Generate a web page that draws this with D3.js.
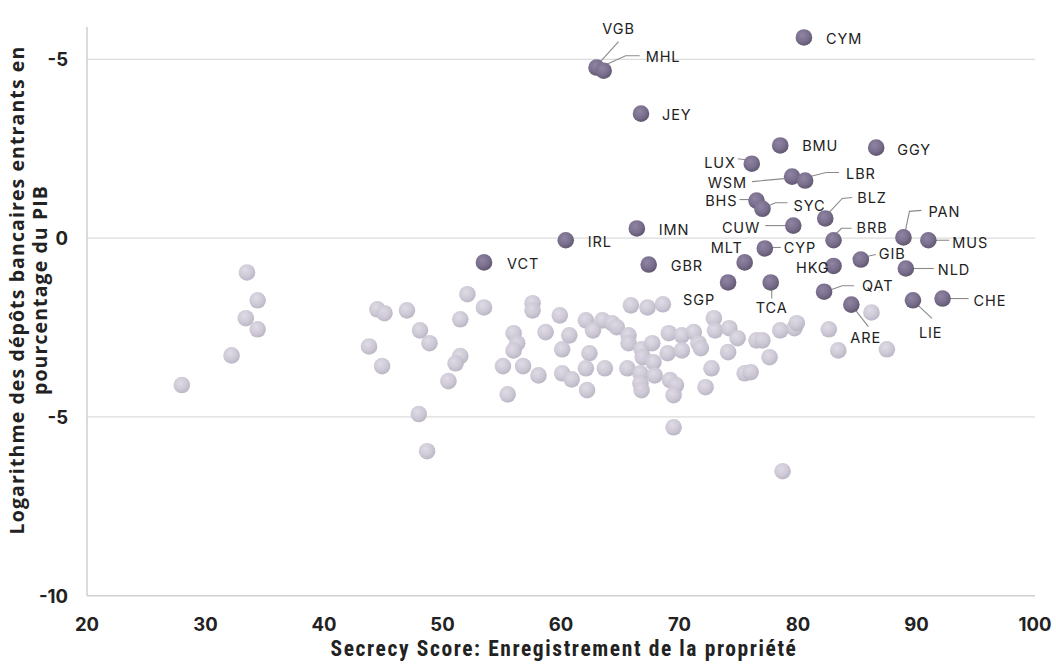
<!DOCTYPE html>
<html><head><meta charset="utf-8">
<script src="https://cdn.jsdelivr.net/npm/d3@7"></script>
<style>body{margin:0;background:#fff}</style>
</head><body><svg id="c" width="1056" height="664"></svg>
<script>
// ---- data ----
const codes = ["VGB","MHL","CYM","JEY","BMU","GGY","LUX","WSM","LBR","BHS","SYC","BLZ","CUW","IMN","PAN","BRB","IRL","MUS","CYP","GIB","VCT","MLT","GBR","HKG","NLD","TCA","SGP","QAT","ARE","LIE","CHE"];
const codeScore = [63.0,63.6,80.5,66.75,78.5,86.6,76.1,79.5,80.6,76.5,77.0,82.3,79.6,66.4,88.9,83.0,60.4,91.0,77.2,85.3,53.5,75.5,67.4,83.0,89.1,77.7,74.1,82.2,84.5,89.7,92.2];
const codeDeposit = [4.77,4.68,5.61,3.48,2.59,2.53,2.08,1.72,1.61,1.05,0.82,0.55,0.35,0.27,0.02,-0.06,-0.06,-0.06,-0.29,-0.60,-0.68,-0.68,-0.74,-0.78,-0.85,-1.24,-1.24,-1.50,-1.86,-1.74,-1.69];
const otherScore = [28.0,32.2,33.5,34.4,33.4,34.4,43.8,44.5,45.1,47.0,44.9,48.1,48.9,48.0,48.7,51.5,52.1,53.5,51.5,51.1,50.5,57.6,57.6,56.0,56.3,56.0,55.1,56.8,58.1,55.5,58.7,59.9,60.7,60.1,60.1,60.9,62.1,63.5,64.3,64.7,62.7,62.4,62.1,63.7,62.2,65.9,67.3,68.6,65.7,65.7,65.6,66.8,67.7,66.9,67.8,66.7,67.9,66.7,66.8,69.1,70.2,71.2,71.6,69.0,70.2,69.2,69.7,69.5,69.5,72.7,72.2,72.9,73.0,71.8,74.2,74.9,74.1,76.5,77.0,77.6,75.5,76.0,78.5,79.7,79.9,82.6,83.4,86.2,87.5,78.7];
const otherDeposit = [-4.11,-3.28,-0.96,-1.74,-2.24,-2.55,-3.03,-1.99,-2.10,-2.02,-3.58,-2.58,-2.94,-4.92,-5.96,-2.27,-1.57,-1.94,-3.30,-3.50,-4.00,-1.82,-2.02,-2.66,-2.94,-3.14,-3.58,-3.58,-3.84,-4.37,-2.63,-2.16,-2.72,-3.11,-3.78,-3.95,-2.30,-2.30,-2.38,-2.49,-2.58,-3.22,-3.64,-3.64,-4.25,-1.88,-1.94,-1.85,-2.72,-2.94,-3.64,-3.11,-2.94,-3.33,-3.47,-3.78,-3.84,-4.06,-4.25,-2.66,-2.72,-2.63,-2.94,-3.22,-3.14,-3.97,-4.11,-4.39,-5.29,-3.64,-4.17,-2.24,-2.58,-3.08,-2.52,-2.80,-3.19,-2.86,-2.86,-3.33,-3.78,-3.75,-2.58,-2.52,-2.38,-2.55,-3.14,-2.08,-3.11,-6.52];
const xTicks = [20,30,40,50,60,70,80,90,100];
const yTicks = [5,0,-5,-10];
const yTickLabels = ["-5","0","-5","-10"];
const xTitle = "Secrecy Score: Enregistrement de la propriété";
const yTitleLines = ["Logarithme des dépôts bancaires entrants en","pourcentage du PIB"];

// ---- label layout (pixel offsets from dot) ----
const layout = {
  VGB:{dx:22,dy:-34,a:"middle",l:[[3,-5],[22,-26]]},
  MHL:{dx:42,dy:-9,a:"start",l:[[2,-6],[22,-15],[36,-15]]},
  CYM:{dx:22,dy:7,a:"start"},
  JEY:{dx:21,dy:6,a:"start"},
  BMU:{dx:22,dy:6,a:"start"},
  GGY:{dx:21,dy:7,a:"start"},
  LUX:{dx:-16,dy:4,a:"end",l:[[-14,-5],[-6,-4]]},
  WSM:{dx:-45,dy:11,a:"end",l:[[-40,5],[-8,2]]},
  LBR:{dx:41,dy:-2,a:"start",l:[[5,-4],[21,-8],[34,-8]]},
  BHS:{dx:-19,dy:5,a:"end",l:[[-17,-1],[-7,-1]]},
  SYC:{dx:31,dy:2,a:"start",l:[[6,-3],[13,-6],[25,-6]]},
  BLZ:{dx:32,dy:-15,a:"start",l:[[3,-5],[17,-20],[27,-21]]},
  CUW:{dx:-33,dy:7,a:"end",l:[[-28,0],[-8,0]]},
  IMN:{dx:22,dy:7,a:"start"},
  PAN:{dx:25,dy:-20,a:"start",l:[[2,-7],[6,-26],[18,-27]]},
  BRB:{dx:23,dy:-7,a:"start",l:[[2,-6],[8,-12],[18,-12]]},
  IRL:{dx:22,dy:7,a:"start"},
  MUS:{dx:24,dy:8,a:"start",l:[[7,0],[21,0]]},
  CYP:{dx:19,dy:5,a:"start",l:[[6,-1],[16,-1]]},
  GIB:{dx:18,dy:-1,a:"start",l:[[6,-3],[15,-5]]},
  VCT:{dx:23,dy:7,a:"start"},
  MLT:{dx:-2,dy:-9,a:"end"},
  GBR:{dx:22,dy:6,a:"start"},
  HKG:{dx:-4,dy:7,a:"end"},
  NLD:{dx:32,dy:7,a:"start",l:[[7,0],[28,0]]},
  TCA:{dx:1,dy:31,a:"middle",l:[[1,7],[1,16]]},
  SGP:{dx:-13,dy:23,a:"end"},
  QAT:{dx:38,dy:-1,a:"start",l:[[7,-2],[18,-6],[30,-6]]},
  ARE:{dx:-1,dy:38,a:"start",l:[[3,4],[17,22]]},
  LIE:{dx:6,dy:38,a:"start",l:[[3,3],[19,18]]},
  CHE:{dx:31,dy:7,a:"start",l:[[8,0],[26,0]]}
};

const svg = d3.select("#c");
const x = d3.scaleLinear().domain([20,100]).range([87,1035]);
const y = d3.scaleLinear().domain([-10,5]).range([595.7,59.3]);

const defs = svg.append("defs");
function grad(id, c1, c2, c3){
  const g = defs.append("radialGradient").attr("id",id).attr("cx","40%").attr("cy","35%").attr("r","65%");
  g.append("stop").attr("offset","0%").attr("stop-color",c1);
  g.append("stop").attr("offset","60%").attr("stop-color",c2);
  g.append("stop").attr("offset","100%").attr("stop-color",c3);
}
grad("gLight","#dedae4","#ccc7d4","#b9b3c2");
grad("gDark","#8f85a2","#7a6f8e","#62586f");

// gridlines
svg.append("g").selectAll("line").data(yTicks.filter(d=>d>-10)).join("line")
  .attr("x1",x(20)).attr("x2",x(100)).attr("y1",d=>y(d)).attr("y2",d=>y(d))
  .attr("stroke","#dcdcdc").attr("stroke-width",1.2);
// axes lines
svg.append("line").attr("x1",x(20)).attr("x2",x(20)).attr("y1",27).attr("y2",y(-10)).attr("stroke","#cfcfcf").attr("stroke-width",1.5);
svg.append("line").attr("x1",x(20)).attr("x2",x(100)).attr("y1",y(-10)).attr("y2",y(-10)).attr("stroke","#cfcfcf").attr("stroke-width",1.5);

// tick labels
svg.append("g").selectAll("text").data(xTicks).join("text")
  .attr("x",d=>x(d)).attr("y",631).attr("text-anchor","middle")
  .attr("font-family","Inter, 'Open Sans', sans-serif").attr("font-weight",700).attr("font-size",18.5)
  .attr("fill","#222").text(d=>d);
svg.append("g").selectAll("text").data(yTicks).join("text")
  .attr("x",68).attr("y",d=>y(d)+7).attr("text-anchor","end")
  .attr("font-family","Inter, 'Open Sans', sans-serif").attr("font-weight",700).attr("font-size",18.5)
  .attr("fill","#222").text((d,i)=>yTickLabels[i]);

// titles
svg.append("text").attr("x",564).attr("y",656).attr("text-anchor","middle")
  .attr("font-family","'Roboto Condensed', 'Liberation Sans Narrow', 'Roboto', sans-serif").attr("font-weight",700).attr("font-size",21.5)
  .attr("letter-spacing",1.6)
  .attr("fill","#222").text(xTitle);
yTitleLines.forEach((t,i)=>{
  svg.append("text").attr("transform",`translate(${24+i*23},290) rotate(-90)`).attr("text-anchor","middle")
    .attr("font-family","'Open Sans', Inter, sans-serif").attr("font-weight",700).attr("font-size",19.5)
    .attr("letter-spacing",1.1)
    .attr("fill","#222").text(t);
});

// points
const others = otherScore.map((s,i)=>({s, d:otherDeposit[i]}));
svg.append("g").selectAll("circle").data(others).join("circle")
  .attr("cx",d=>x(d.s)).attr("cy",d=>y(d.d)).attr("r",8.3)
  .attr("fill","url(#gLight)").attr("opacity",0.95);

const hl = codes.map((c,i)=>({c, s:codeScore[i], d:codeDeposit[i]}));
// leader lines
svg.append("g").selectAll("polyline").data(hl.filter(d=>layout[d.c].l)).join("polyline")
  .attr("points",d=>layout[d.c].l.map(p=>[x(d.s)+p[0], y(d.d)+p[1]].join(",")).join(" "))
  .attr("fill","none").attr("stroke","#8a8a8a").attr("stroke-width",1.1);
svg.append("g").selectAll("circle").data(hl).join("circle")
  .attr("cx",d=>x(d.s)).attr("cy",d=>y(d.d)).attr("r",8.3)
  .attr("fill","url(#gDark)");
svg.append("g").selectAll("text").data(hl).join("text")
  .attr("x",d=>x(d.s)+layout[d.c].dx).attr("y",d=>y(d.d)+layout[d.c].dy)
  .attr("text-anchor",d=>layout[d.c].a)
  .attr("font-family","Inter, 'Open Sans', sans-serif").attr("font-size",14.5).attr("letter-spacing",0.9)
  .attr("fill","#222").text(d=>d.c);
</script></body></html>
